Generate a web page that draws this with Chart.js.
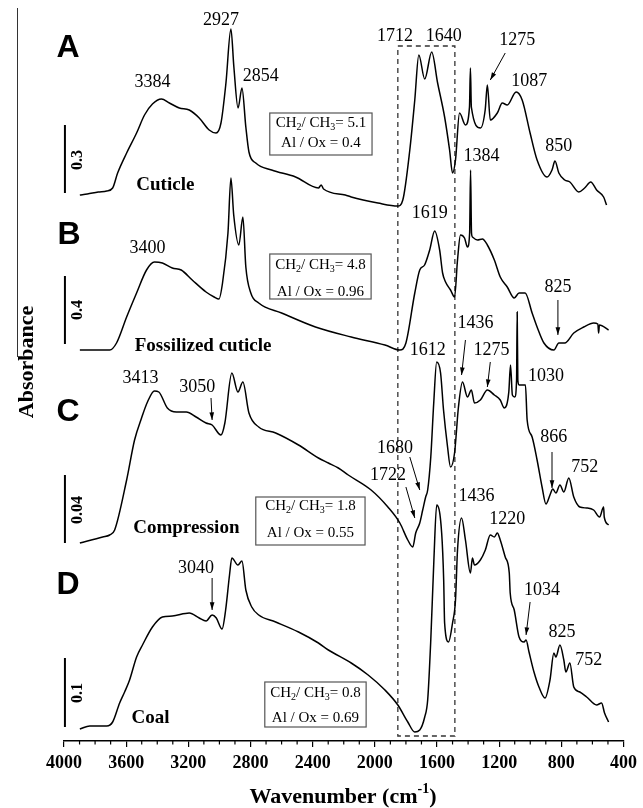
<!DOCTYPE html>
<html>
<head>
<meta charset="utf-8">
<script src="https://cdn.jsdelivr.net/npm/chart.js@4.4.1/dist/chart.umd.min.js"></script>
<style>
  body { margin: 0; background: #fff; }
  canvas { display: block; }
</style>
</head>
<body>
<canvas id="ftir" width="643" height="808"></canvas>
<script>
// ── FTIR spectra: wavenumber (cm-1) vs stacked absorbance (arbitrary units) ──
const xTicks = [4000, 3600, 3200, 2800, 2400, 2000, 1600, 1200, 800, 400];

// A – Cuticle
const wnA  = [3898, 3850, 3780, 3725, 3687, 3655, 3597, 3533, 3482, 3431, 3373, 3322, 3258, 3194, 3130, 3066, 3022, 2990, 2958, 2926,
              2907, 2880, 2855, 2830, 2810, 2766, 2664, 2510, 2363, 2345, 2330, 2190, 2152, 1980, 1852, 1820, 1775, 1743, 1717, 1679,
              1634, 1596, 1551, 1519, 1500, 1481, 1455, 1417, 1391, 1385, 1379, 1320, 1290, 1276, 1257, 1212, 1180, 1148, 1091, 1052,
              1001, 956, 892, 860, 841, 816, 778, 745, 688, 650, 611, 573, 528, 509];
const absA = [54.6, 54.7, 54.9, 55.0, 55.3, 56.8, 58.8, 60.8, 62.6, 63.7, 64.2, 63.8, 63.3, 63.1, 62.3, 61.1, 60.8, 61.8, 65.8, 71.2,
              67.4, 63.3, 65.3, 61.4, 58.9, 57.8, 57.1, 56.4, 55.3, 55.6, 55.2, 54.6, 54.4, 53.8, 53.5, 54.1, 59.1, 64.1, 68.6, 66.2,
              68.9, 65.8, 62.4, 59.1, 56.8, 58.1, 62.8, 61.6, 63.4, 67.3, 63.4, 61.3, 63.1, 65.6, 62.1, 62.8, 63.8, 63.6, 64.9, 64.1,
              60.8, 58.1, 56.4, 57.1, 58.0, 56.8, 56.1, 55.9, 54.9, 55.3, 55.9, 55.1, 54.4, 53.6];

// B – Fossilized cuticle
const wnB  = [3898, 3706, 3662, 3597, 3533, 3469, 3418, 3367, 3303, 3246, 3175, 3086, 3034, 3003, 2980, 2945, 2926, 2908, 2875, 2849,
              2830, 2798, 2747, 2600, 2382, 2152, 1935, 1839, 1800, 1743, 1711, 1680, 1647, 1615, 1583, 1564, 1545, 1513, 1487, 1468,
              1449, 1423, 1404, 1390, 1384, 1378, 1372, 1340, 1308, 1276, 1231, 1193, 1148, 1103, 1072, 1033, 988, 956, 912, 848,
              816, 778, 720, 656, 592, 565, 560, 555, 496];
const absB = [39.1, 39.1, 39.8, 42.4, 44.8, 47.1, 47.9, 47.8, 47.3, 47.1, 46.1, 44.9, 44.4, 44.2, 45.8, 50.8, 56.3, 52.6, 49.6, 52.4,
              47.4, 44.8, 43.8, 42.8, 41.4, 40.4, 39.6, 39.1, 39.8, 44.8, 47.1, 47.6, 49.1, 51.0, 49.1, 46.8, 45.9, 45.1, 44.4, 48.1,
              50.6, 50.3, 49.4, 50.8, 57.1, 50.8, 50.4, 50.1, 50.2, 49.6, 48.1, 46.4, 45.4, 44.3, 44.8, 44.8, 42.8, 41.4, 39.8, 39.1,
              39.8, 39.8, 40.8, 41.4, 41.8, 41.7, 40.8, 41.6, 41.1];

// C – Compression
const wnC  = [3898, 3751, 3706, 3674, 3597, 3546, 3501, 3463, 3418, 3390, 3335, 3277, 3213, 3150, 3086, 3047, 2990, 2965, 2920, 2881,
              2849, 2810, 2747, 2638, 2491, 2363, 2299, 2235, 2171, 2024, 1916, 1839, 1788, 1756, 1737, 1711, 1692, 1673, 1660, 1640,
              1621, 1602, 1577, 1558, 1532, 1513, 1487, 1462, 1436, 1404, 1379, 1359, 1321, 1276, 1231, 1193, 1167, 1138, 1127, 1115,
              1100, 1088, 1084, 1080, 1072, 1031, 1020, 988, 956, 924, 899, 873, 855, 835, 809, 784, 752, 720, 681, 637,
              592, 554, 528, 524, 496];
const absC = [19.8, 20.4, 20.6, 21.1, 26.1, 30.1, 32.3, 33.9, 35.0, 34.9, 33.3, 32.9, 32.9, 32.4, 31.8, 31.6, 30.6, 31.8, 36.8, 34.9,
              35.9, 32.8, 31.4, 30.8, 29.6, 28.3, 27.8, 27.3, 26.6, 25.1, 23.4, 21.8, 20.1, 19.4, 20.8, 21.8, 23.1, 24.4, 25.1, 28.4,
              33.8, 37.9, 36.8, 33.1, 29.4, 27.4, 28.8, 33.4, 35.9, 34.4, 35.1, 33.8, 34.1, 35.1, 34.6, 34.1, 33.3, 34.9, 37.6, 34.6,
              34.4, 36.1, 42.9, 36.1, 35.6, 35.6, 32.1, 30.4, 28.1, 25.4, 23.7, 24.6, 25.2, 24.8, 25.6, 24.9, 26.3, 24.4, 23.4, 23.3,
              23.1, 22.4, 23.4, 22.4, 21.6];

// D – Coal
const wnD  = [3898, 3834, 3725, 3687, 3642, 3610, 3578, 3533, 3495, 3431, 3367, 3303, 3194, 3130, 3086, 3047, 3020, 2983, 2960, 2935,
              2920, 2881, 2855, 2830, 2792, 2747, 2638, 2491, 2363, 2299, 2152, 2043, 1935, 1852, 1788, 1743, 1711, 1679, 1660, 1640,
              1620, 1602, 1570, 1557, 1551, 1526, 1500, 1481, 1468, 1442, 1417, 1385, 1372, 1359, 1321, 1289, 1257, 1231, 1212, 1193,
              1161, 1135, 1129, 1103, 1072, 1040, 1027, 1008, 976, 944, 905, 873, 848, 835, 809, 784, 771, 745, 720, 681,
              637, 573, 541, 522, 496];
const absD = [1.2, 1.5, 1.5, 1.9, 3.8, 4.9, 6.1, 8.4, 9.6, 11.4, 12.4, 12.5, 12.8, 12.3, 12.0, 12.6, 12.3, 11.2, 13.1, 16.6,
              18.3, 17.6, 18.0, 15.1, 13.4, 12.6, 11.9, 10.9, 9.8, 9.1, 7.8, 6.6, 5.1, 3.6, 1.9, 0.9, 1.1, 2.4, 4.1, 10.1,
              18.1, 23.6, 20.8, 16.1, 11.8, 9.9, 11.8, 14.1, 19.1, 22.3, 20.1, 16.8, 18.3, 17.6, 18.1, 19.1, 20.6, 20.4, 20.8, 20.1,
              18.4, 16.8, 14.8, 13.1, 10.4, 9.9, 10.1, 8.9, 6.9, 5.4, 4.3, 6.1, 8.8, 8.4, 9.6, 8.1, 6.9, 7.8, 5.4, 4.9,
              4.4, 3.6, 3.8, 2.8, 1.9];

// dashed region 1852–1485 cm-1
const boxWn  = [1852, 1485, 1485, 1852, 1852];
const boxAbs = [69.5, 69.5, 0.5, 0.5, 69.5];

// ── annotations ──
const peakLabels = [
  ['3384', 3431, 65.9], ['2927', 2990, 72.1], ['2854', 2734, 66.5], ['1712', 1871, 70.5], ['1640', 1557, 70.5],
  ['1275', 1084, 70.1], ['1087', 1007, 66.0], ['850', 816, 59.5], ['1384', 1314, 58.5],
  ['3400', 3463, 49.3], ['1619', 1647, 52.8], ['825', 822, 45.4],
  ['3413', 3508, 36.3], ['3050', 3143, 35.4], ['1612', 1660, 39.1], ['1436', 1353, 41.8], ['1275', 1250, 39.1],
  ['1030', 899, 36.5], ['1680', 1871, 29.3], ['1722', 1915, 26.6], ['866', 848, 30.4], ['752', 649, 27.4],
  ['1436', 1346, 24.5], ['1220', 1148, 22.2], ['1034', 924, 15.1], ['825', 796, 10.9], ['752', 624, 8.1], ['3040', 3150, 17.3],
];
const arrows = [
  [1161, 68.8, 1257, 66.1], [822, 44.1, 822, 40.6], [3054, 34.3, 3047, 32.1], [1417, 40.1, 1442, 36.6],
  [1257, 37.9, 1276, 35.4], [1775, 28.4, 1711, 25.1], [1800, 25.4, 1743, 22.3], [860, 28.9, 860, 25.3],
  [1001, 13.9, 1027, 10.6], [3047, 16.3, 3047, 13.1],
];
const panelLetters = [['A', 3974, 69.3], ['B', 3968, 50.6], ['C', 3974, 32.9], ['D', 3974, 15.6]];
const sampleNames  = [['Cuticle', 3348, 55.6], ['Fossilized cuticle', 3105, 39.5], ['Compression', 3213, 21.3], ['Coal', 3444, 2.3]];
const scaleBars    = [['0.3', 61.6, 54.8, 58.1], ['0.4', 46.5, 39.7, 43.1], ['0.04', 26.6, 19.8, 23.1], ['0.1', 8.3, 1.4, 4.8]];
const ratioBoxes   = [
  { ch: '5.1', ox: '0.4',  wn: [2676, 2018], v: [62.8, 58.6], lines: [61.6, 59.8] },
  { ch: '4.8', ox: '0.96', wn: [2676, 2024], v: [48.7, 44.2], lines: [47.4, 44.9] },
  { ch: '1.8', ox: '0.55', wn: [2766, 2063], v: [24.4, 19.6], lines: [23.3, 20.8] },
  { ch: '0.8', ox: '0.69', wn: [2708, 2056], v: [5.9, 1.4],   lines: [4.6, 2.3] },
];

const SERIF = '"Liberation Serif", "Times New Roman", serif';
const SANS  = '"Liberation Sans", Arial, sans-serif';

const toXY = (wn, ab) => wn.map((w, i) => ({ x: w, y: ab[i] }));
const spectrum = (wn, ab) => ({
  data: toXY(wn, ab), borderColor: '#000', borderWidth: 1.5, pointRadius: 0,
  fill: false, cubicInterpolationMode: 'monotone',
});

// draw text made of normal / subscript / superscript runs, centred on x
function richText(ctx, runs, x, y, size, weight) {
  const small = Math.round(size * 0.65);
  let total = 0;
  runs.forEach(([t, mode]) => {
    ctx.font = `${weight} ${mode ? small : size}px ${SERIF}`;
    total += ctx.measureText(t).width;
  });
  let cx = x - total / 2;
  ctx.textAlign = 'left';
  ctx.textBaseline = 'middle';
  runs.forEach(([t, mode]) => {
    ctx.font = `${weight} ${mode ? small : size}px ${SERIF}`;
    const dy = mode === 1 ? size * 0.3 : mode === 2 ? -size * 0.35 : 0;
    ctx.fillText(t, cx, y + dy);
    cx += ctx.measureText(t).width;
  });
}

const decorations = {
  id: 'decorations',
  afterDraw(chart) {
    const { ctx, scales: { x, y } } = chart;
    const px = v => x.getPixelForValue(v);
    const py = v => y.getPixelForValue(v);
    ctx.save();
    ctx.fillStyle = '#000';
    ctx.strokeStyle = '#000';

    // minor ticks every 100 cm-1
    const base = chart.chartArea.bottom;
    ctx.lineWidth = 1.2;
    for (let w = 500; w < 4000; w += 100) {
      if (w % 400 === 0) continue;
      ctx.beginPath();
      ctx.moveTo(px(w), base);
      ctx.lineTo(px(w), base + 3.5);
      ctx.stroke();
    }

    // peak labels
    ctx.font = `18px ${SERIF}`;
    ctx.textAlign = 'center';
    ctx.textBaseline = 'middle';
    peakLabels.forEach(([t, w, v]) => ctx.fillText(t, px(w), py(v)));

    // arrows
    ctx.lineWidth = 1;
    arrows.forEach(([w1, v1, w2, v2]) => {
      const x1 = px(w1), y1 = py(v1), x2 = px(w2), y2 = py(v2);
      const a = Math.atan2(y2 - y1, x2 - x1);
      ctx.beginPath();
      ctx.moveTo(x1, y1);
      ctx.lineTo(x2, y2);
      ctx.stroke();
      ctx.beginPath();
      ctx.moveTo(x2, y2);
      ctx.lineTo(x2 - 8 * Math.cos(a - 0.3), y2 - 8 * Math.sin(a - 0.3));
      ctx.lineTo(x2 - 8 * Math.cos(a + 0.3), y2 - 8 * Math.sin(a + 0.3));
      ctx.closePath();
      ctx.fill();
    });

    // panel letters
    ctx.font = `bold 32px ${SANS}`;
    panelLetters.forEach(([t, w, v]) => ctx.fillText(t, px(w), py(v)));

    // sample names
    ctx.font = `bold 19px ${SERIF}`;
    sampleNames.forEach(([t, w, v]) => ctx.fillText(t, px(w), py(v)));

    // absorbance scale bars
    scaleBars.forEach(([t, top, bot, mid]) => {
      ctx.lineWidth = 2;
      ctx.beginPath();
      ctx.moveTo(px(3994), py(top));
      ctx.lineTo(px(3994), py(bot));
      ctx.stroke();
      ctx.save();
      ctx.translate(px(3910), py(mid));
      ctx.rotate(-Math.PI / 2);
      ctx.font = `bold 16px ${SERIF}`;
      ctx.fillText(t, 0, 0);
      ctx.restore();
    });

    // CH2/CH3 and Al/Ox boxes
    ratioBoxes.forEach(b => {
      const l = px(b.wn[0]), r = px(b.wn[1]), t = py(b.v[0]), bt = py(b.v[1]);
      ctx.fillStyle = '#fff';
      ctx.fillRect(l, t, r - l, bt - t);
      ctx.strokeStyle = '#555';
      ctx.lineWidth = 1.2;
      ctx.strokeRect(l, t, r - l, bt - t);
      ctx.fillStyle = '#000';
      const cx = (l + r) / 2;
      richText(ctx, [['CH', 0], ['2', 1], ['/ CH', 0], ['3', 1], ['= ' + b.ch, 0]], cx, py(b.lines[0]) - 2, 15, 'normal');
      richText(ctx, [['Al / Ox = ' + b.ox, 0]], cx, py(b.lines[1]), 15, 'normal');
    });

    // axis titles
    ctx.fillStyle = '#000';
    richText(ctx, [['Wavenumber (cm', 0], ['-1', 2], [')', 0]], 343, 797, 22, 'bold');
    ctx.save();
    ctx.translate(27, 362);
    ctx.rotate(-Math.PI / 2);
    ctx.font = `bold 22px ${SERIF}`;
    ctx.textAlign = 'center';
    ctx.textBaseline = 'middle';
    ctx.fillText('Absorbance', 0, 0);
    ctx.restore();

    // leftover frame line at the far left
    ctx.strokeStyle = '#333';
    ctx.lineWidth = 1;
    ctx.beginPath();
    ctx.moveTo(17.5, 8);
    ctx.lineTo(17.5, 357);
    ctx.stroke();

    ctx.restore();
  },
};

new Chart(document.getElementById('ftir'), {
  type: 'line',
  data: {
    datasets: [
      spectrum(wnA, absA),
      spectrum(wnB, absB),
      spectrum(wnC, absC),
      spectrum(wnD, absD),
      {
        data: toXY(boxWn, boxAbs), borderColor: '#333', borderWidth: 1.3, borderDash: [5, 4],
        pointRadius: 0, fill: false, tension: 0,
      },
    ],
  },
  options: {
    responsive: false,
    animation: false,
    devicePixelRatio: 1,
    layout: { padding: { left: 64, right: 16, top: 5, bottom: 0 } },
    plugins: { legend: { display: false }, tooltip: { enabled: false } },
    scales: {
      x: {
        type: 'linear',
        reverse: true,
        min: 400,
        max: 4000,
        afterBuildTicks: s => { s.ticks = xTicks.map(v => ({ value: v })); },
        afterFit: s => { s.height = 67; },
        ticks: {
          color: '#000',
          font: { family: SERIF, size: 18, weight: 'bold' },
          maxRotation: 0,
          padding: 6,
          autoSkip: false,
          callback: v => String(v),
        },
        grid: { drawOnChartArea: false, drawTicks: true, tickLength: 6, color: '#000', lineWidth: 1.2 },
        border: { display: true, color: '#000', width: 1.5 },
      },
      y: { display: false, min: 0, max: 73.6 },
    },
  },
  plugins: [decorations],
});
</script>
</body>
</html>
